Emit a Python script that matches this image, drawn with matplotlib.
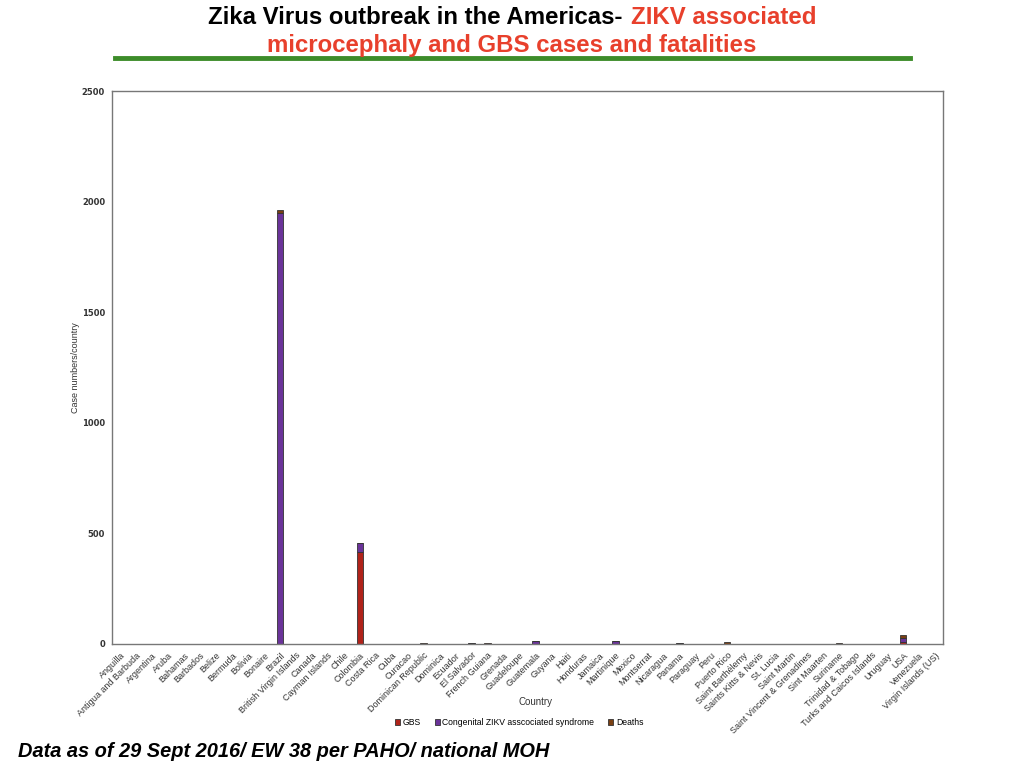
import numpy as np
import matplotlib
matplotlib.use("Agg")
import matplotlib.pyplot as plt

countries = [
    "Anguilla", "Antigua and Barbuda", "Argentina", "Aruba", "Bahamas",
    "Barbados", "Belize", "Bermuda", "Bolivia", "Bonaire", "Brazil",
    "British Virgin Islands", "Canada", "Cayman Islands", "Chile", "Colombia",
    "Costa Rica", "Cuba", "Curacao", "Dominican Republic", "Dominica",
    "Ecuador", "El Salvador", "French Guiana", "Grenada", "Guadeloupe",
    "Guatemala", "Guyana", "Haiti", "Honduras", "Jamaica", "Martinique",
    "Mexico", "Montserrat", "Nicaragua", "Panama", "Paraguay", "Peru",
    "Puerto Rico", "Saint Barthélemy", "Saints Kitts & Nevis", "St. Lucia",
    "Saint Martin", "Saint Vincent & Grenadines", "Sint Maarten", "Suriname",
    "Trinidad & Tobago", "Turks and Caicos Islands", "Uruguay", "USA",
    "Venezuela", "Virgin Islands (US)",
]

gbs = [0, 0, 0, 0, 0, 0, 0, 0, 0, 0, 0,
       0, 0, 0, 0, 418,
       0, 0, 0, 0, 0,
       0, 0, 0, 0, 0,
       0, 0, 0, 0, 0, 0,
       0, 0, 0, 0, 0, 0,
       0, 0, 0, 0,
       0, 0, 0, 0,
       0, 0, 0, 10,
       0, 0]

czs = [0, 0, 0, 0, 0, 0, 0, 0, 0, 0, 1949,
       0, 1, 0, 0, 39,
       1, 0, 0, 1, 0,
       0, 4, 1, 0, 0,
       15, 0, 1, 1, 0, 12,
       1, 0, 0, 4, 1, 1,
       1, 0, 0, 0,
       0, 0, 1, 1,
       0, 0, 0, 18,
       0, 0]

deaths = [0, 0, 0, 0, 0, 0, 0, 0, 0, 0, 11,
          0, 0, 0, 0, 0,
          0, 0, 0, 3, 0,
          0, 0, 3, 0, 0,
          0, 0, 0, 0, 0, 0,
          0, 0, 0, 0, 0, 0,
          7, 0, 0, 0,
          0, 0, 0, 3,
          0, 0, 0, 12,
          0, 0]

c_gbs = "#b0231a"
c_czs = "#6a3399"
c_death = "#7a3f12"
edge = "#333333"

fig = plt.figure(figsize=(10.24, 7.68), dpi=100)
ax = fig.add_axes([0.1094, 0.1615, 0.8115, 0.72])

x = np.arange(len(countries))
g = np.array(gbs)
c = np.array(czs)
d = np.array(deaths)
w = 0.4
ax.bar(x, g, w, color=c_gbs, edgecolor=edge, linewidth=0.6, label="GBS")
ax.bar(x, c, w, bottom=g, color=c_czs, edgecolor=edge, linewidth=0.6,
       label="Congenital ZIKV asscociated syndrome")
ax.bar(x, d, w, bottom=g + c, color=c_death, edgecolor=edge, linewidth=0.6,
       label="Deaths")

ax.set_xlim(-0.5, len(countries) - 0.5)
ax.set_ylim(0, 2500)
ax.set_yticks([0, 500, 1000, 1500, 2000, 2500])
ax.set_xticks(x)
ax.set_xticklabels(countries, rotation=45, ha="right", rotation_mode="anchor",
                   fontsize=6.5, color="#333333", family="Liberation Sans")
for lab in ax.get_yticklabels():
    lab.set_fontsize(6)
    lab.set_fontweight("bold")
    lab.set_color("#333333")
ax.tick_params(axis="both", length=0, pad=5)
for s in ax.spines.values():
    s.set_color("#777777")
    s.set_linewidth(1)

ax.set_ylabel("Case numbers/country", fontsize=6.5, color="#333333",
              labelpad=1, family="Liberation Sans")
fig.text(0.523, 0.082, "Country", fontsize=7, color="#333333", ha="center",
         family="Liberation Sans")

ax.legend(loc="upper center", bbox_to_anchor=(0.49, -0.12), ncol=3,
          frameon=False, handlelength=0.6, handleheight=0.6,
          handletextpad=0.3, columnspacing=1.6,
          prop={"size": 6.2, "family": "Liberation Sans"})

# title
fig.text(0.608, 0.977, "Zika Virus outbreak in the Americas-", ha="right",
         va="center", fontsize=17.3, fontweight="bold",
         family="Liberation Sans")
fig.text(0.616, 0.977, "ZIKV associated", ha="left", va="center",
         fontsize=17.3, fontweight="bold", color="#e8402c",
         family="Liberation Sans")
fig.text(0.5, 0.941, "microcephaly and GBS cases and fatalities", ha="center",
         va="center", fontsize=17.3, fontweight="bold", color="#e8402c",
         family="Liberation Sans")
fig.add_artist(plt.Line2D([0.112, 0.889], [0.924, 0.924], color="#3d8c2a",
                          linewidth=3.5, transform=fig.transFigure))

fig.text(0.018, 0.014, "Data as of 29 Sept 2016/ EW 38 per PAHO/ national MOH",
         fontsize=14.4, fontweight="bold", style="italic",
         family="Liberation Sans")

fig.savefig("out.png", dpi=100)
